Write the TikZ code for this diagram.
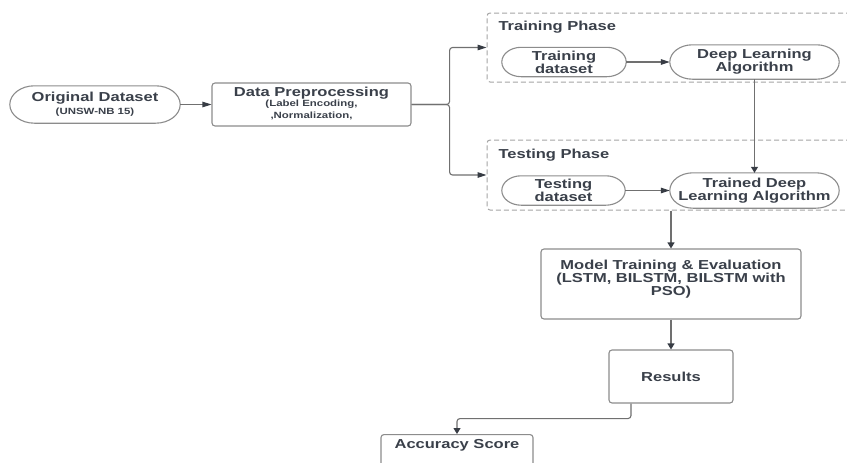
\documentclass[tikz,border=0pt]{standalone}
\usepackage{fontspec}
\setmainfont[FakeStretch=1.27]{Liberation Sans}
\usetikzlibrary{arrows.meta,calc}

\definecolor{txt}{RGB}{58,64,74}
\definecolor{edge}{RGB}{140,140,140}
\definecolor{wire}{RGB}{112,112,112}
\definecolor{tip}{RGB}{55,60,68}
\definecolor{dash}{RGB}{165,165,165}

% outline with elliptical ends around a named node
\newcommand\stadiumline[1]{%
  \draw[edge, line width=1.1pt] let \p1=(#1.north west), \p2=(#1.south east),
      \n1={abs(\y1-\y2)/2}, \n2={1.32*\n1} in
    (\x1+\n2,\y1) -- (\x2-\n2,\y1)
    arc[start angle=90,end angle=-90,x radius=\n2,y radius=\n1]
    -- (\x1+\n2,\y2)
    arc[start angle=270,end angle=90,x radius=\n2,y radius=\n1] -- cycle;}
\newcommand\smallbold{\fontsize{9}{9}\selectfont\bfseries}

\tikzset{
  every node/.style={text=txt, font=\fontsize{13}{12}\selectfont\bfseries},
  stad/.style={inner sep=0pt, align=center},
  box/.style={draw=edge, line width=1.1pt, rounded corners=3pt, inner sep=0pt, align=center},
  phase/.style={draw=dash, line width=1pt, dash pattern=on 5pt off 3pt, rounded corners=3pt, inner sep=0pt},
  conn/.style={draw=wire, line width=1.1pt},
  harrow/.style={conn, -{Triangle[length=9pt,width=5.5pt,color=tip]}},
  varrow/.style={conn, -{Triangle[length=6pt,width=7pt,color=tip]}},
}

\begin{document}
\begin{tikzpicture}[x=1pt,y=-1pt]
\clip (0,0) rectangle (847,463);
\fill[white] (0,0) rectangle (847,463);

% phase frames (they run past the right edge)
\node[phase, minimum width=383pt, minimum height=69pt] (trainph) at (678.5,47.5) {};
\node[phase, minimum width=383pt, minimum height=70pt] (testph) at (678.5,175) {};
\node[anchor=west] (trainlbl) at (495,27) {Training Phase};
\node[anchor=west] (testlbl) at (495,155) {Testing Phase};

% input and preprocessing
\node[stad, minimum width=170pt, minimum height=37pt] (orig) at (95,104.5)
  {Original Dataset\\[1pt]\smallbold (UNSW-NB 15)};
\stadiumline{orig}
\node[box, minimum width=199pt, minimum height=43pt, text depth=4pt] (prep) at (311.5,104.5)
  {Data Preprocessing\\[-2pt]\smallbold (Label Encoding,\\\smallbold ,Normalization,};

% training / testing stadiums
\node[stad, minimum width=124pt, minimum height=29pt] (trds) at (564,62) {Training\\dataset};
\stadiumline{trds}
\node[stad, minimum width=169pt, minimum height=34pt] (dla) at (754.5,62) {Deep Learning\\Algorithm};
\stadiumline{dla}
\node[stad, minimum width=123pt, minimum height=29pt] (tsds) at (563.5,190.5) {Testing\\dataset};
\stadiumline{tsds}
\node[stad, minimum width=169pt, minimum height=35pt] (tdla) at (754.5,190.5) {Trained Deep\\Learning Algorithm};
\stadiumline{tdla}

% evaluation chain
\node[box, minimum width=260pt, minimum height=70pt, font=\fontsize{13}{11}\selectfont\bfseries] (model) at (671,284)
  {Model Training \& Evaluation\\(LSTM, BILSTM, BILSTM with\\PSO)\\[1pt]};
\node[box, minimum width=124pt, minimum height=53pt] (res) at (671,376.5) {Results};
\node[box, anchor=north, minimum width=152pt, inner ysep=5pt, text depth=32pt] (acc) at (457,434) {Accuracy Score};

% connectors
\coordinate (split) at ([xshift=38pt]prep.east);
\coordinate (turn) at ([yshift=-15pt]res.south -| 631,0);
\draw[harrow] (orig.east) -- (prep.west);
\draw[harrow, rounded corners=3pt] (prep.east) -- (split) |- (trainph.west);
\draw[harrow, rounded corners=3pt] (prep.east) -- (split) |- (testph.west);
\draw[harrow] (trds.east) -- (dla.west);
\draw[harrow] (tsds.east) -- (tdla.west);
\draw[varrow] (dla.south) -- (tdla.north);
\draw[varrow] (model.north |- testph.south) -- (model.north);
\draw[varrow] (model.south) -- (res.north);
\draw[varrow, rounded corners=3pt] (res.south -| turn) -- (turn) -| (acc.north);
\end{tikzpicture}
\end{document}
